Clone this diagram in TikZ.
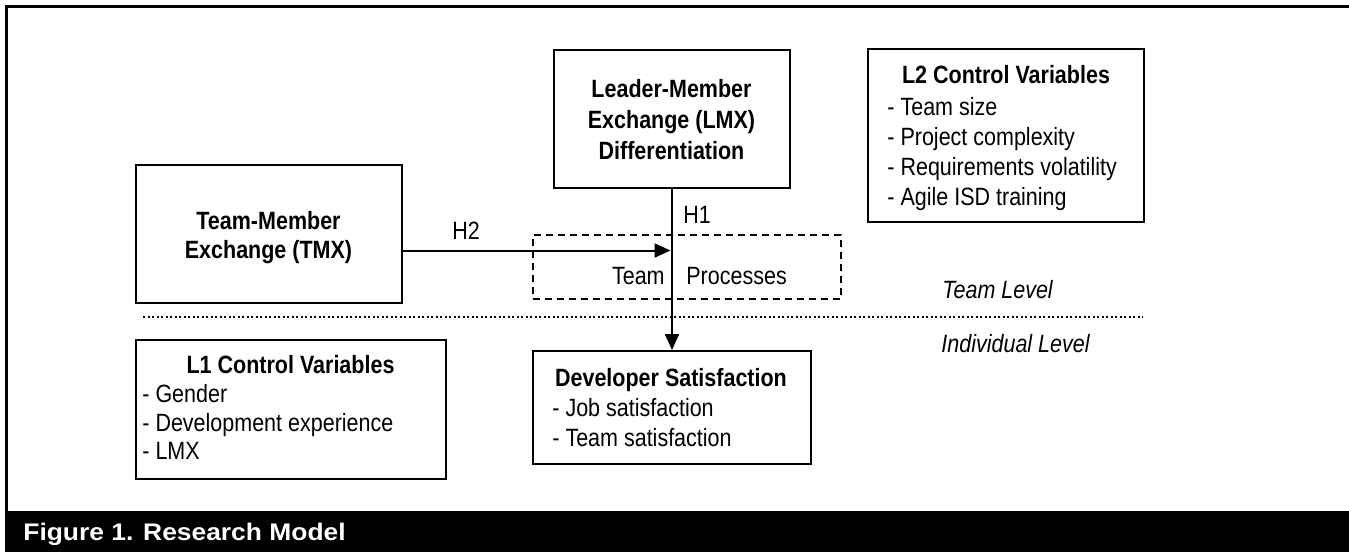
\documentclass[tikz,border=0pt]{standalone}
\usepackage{fontspec}
\setmainfont{Liberation Sans}[FakeStretch=0.86]
\newfontfamily\capfont{Liberation Sans}[FakeStretch=1.1]
\usetikzlibrary{arrows.meta}

\begin{document}
\begin{tikzpicture}[x=0.5pt,y=-0.5pt,
  box/.style={draw,line width=1pt,inner sep=0pt},
  procbox/.style={draw,line width=0.75pt,dash pattern=on 3.5pt off 2.5pt,inner sep=0pt},
  txt/.style={inner sep=0pt,font=\fontsize{12.5}{15}\selectfont},
  level/.style={txt,font=\fontsize{12.5}{15}\selectfont\itshape,anchor=base west},
  conn/.style={line width=1pt,-{Triangle[length=8pt,width=7pt]}},
  divider/.style={line width=1pt,dash pattern=on 1pt off 1.25pt}]

\useasboundingbox (0,0) rectangle (1349,552);

% outer frame and caption bar
\draw[line width=1.5pt] (6.5,511) -- (6.5,6.5) -- (1349,6.5);
\node[fill=black,inner sep=0pt,anchor=north west,minimum width=672pt,minimum height=20.5pt] (bar) at (5,511) {};
\node[inner sep=0pt,anchor=base west,text=white,font=\capfont\bfseries\fontsize{12}{14}\selectfont] (cap) at (23,540.5) {Figure 1. Research Model};

% boxes
\node[box,minimum width=133pt,minimum height=69pt] (tmx) at (269,234) {};
\node[box,minimum width=118pt,minimum height=69pt] (lmx) at (672,119) {};
\node[box,minimum width=138pt,minimum height=86.5pt] (l2) at (1006,135.5) {};
\node[box,minimum width=155pt,minimum height=69.5pt] (l1) at (291,409.5) {};
\node[box,minimum width=139pt,minimum height=56.5pt] (dev) at (672,407.5) {};
\node[procbox,minimum width=154pt,minimum height=32pt] (proc) at (687,267) {};

% box texts
\node[txt,anchor=base] (tmxt) at (268.5,229) {\renewcommand\arraystretch{0.967}\begin{tabular}[t]{@{}c@{}}\bfseries Team-Member\\\bfseries Exchange (TMX)\end{tabular}};
\node[txt,anchor=base] (lmxt) at (671.5,97.5) {\renewcommand\arraystretch{1.03}\begin{tabular}[t]{@{}c@{}}\bfseries Leader-Member\\\bfseries Exchange (LMX)\\\bfseries Differentiation\end{tabular}};

\node[txt,anchor=base] (l2t) at (1006,83.5) {\bfseries L2 Control Variables};
\node[txt,anchor=base west] (l2i) at (887,115) {\begin{tabular}[t]{@{}l@{}}- Team size\\- Project complexity\\- Requirements volatility\\- Agile ISD training\end{tabular}};

\node[txt,anchor=base] (l1t) at (290.5,373) {\bfseries L1 Control Variables};
\node[txt,anchor=base west] (l1i) at (142,402.5) {\renewcommand\arraystretch{0.95}\begin{tabular}[t]{@{}l@{}}- Gender\\- Development experience\\- LMX\end{tabular}};

\node[txt,anchor=base] (devt) at (671,386.5) {\bfseries Developer Satisfaction};
\node[txt,anchor=base west] (devi) at (552,416.5) {\begin{tabular}[t]{@{}l@{}}- Job satisfaction\\- Team satisfaction\end{tabular}};

\node[txt,anchor=base east] (team) at (665,284) {Team};
\node[txt,anchor=base west] (procs) at (686,284) {Processes};

% level labels and divider
\coordinate (dl) at (143,317);
\coordinate (dr) at (1143,317);
\draw[divider] (dl) -- (dr);
\node[level] (tl) at (942,298.5) {Team Level};
\node[level] (il) at (941,352.5) {Individual Level};

% hypotheses
\coordinate (join) at (670.5,250.5);
\draw[conn] (tmx.east |- join) -- (join);
\draw[conn] (lmx.south) -- (dev.north);
\node[txt,anchor=base west] (h2) at (452,239.5) {H2};
\node[txt,anchor=base west] (h1) at (683,223) {H1};
\end{tikzpicture}
\end{document}
